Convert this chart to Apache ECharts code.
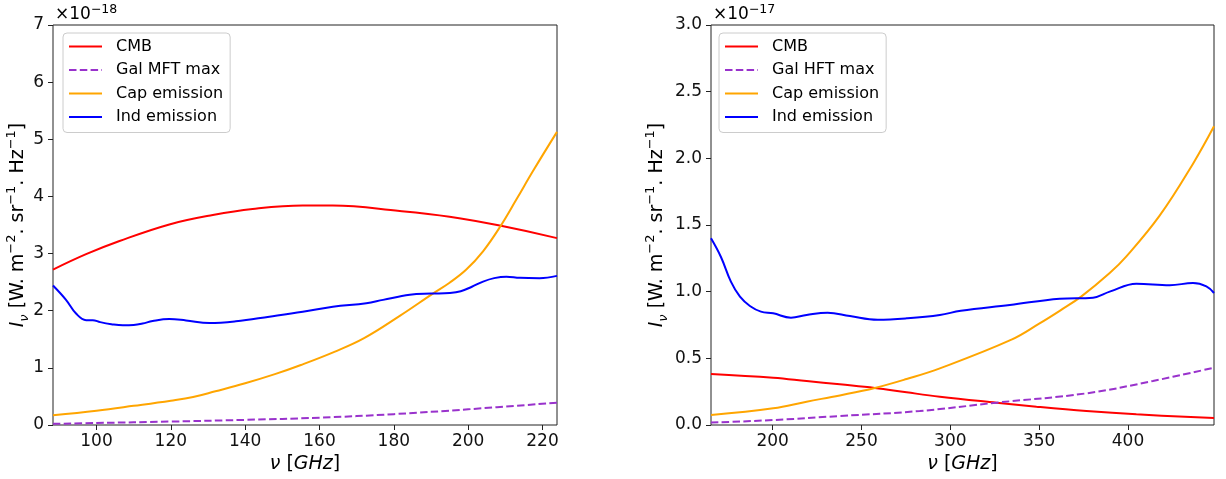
<!DOCTYPE html>
<html>
<head>
<meta charset="utf-8">
<script src="https://cdn.jsdelivr.net/npm/echarts@6/dist/echarts.min.js"></script>
<style>
  html, body { margin: 0; padding: 0; background: #fff; }
  #chart { width: 1226px; height: 479px; }
</style>
</head>
<body>
<div id="chart"></div>
<script>
// Spectral intensity I_nu versus frequency for the two telescopes.
// Left panel values are in units of 1e-18 W m^-2 sr^-1 Hz^-1, right panel in 1e-17.

// ---- MFT band (left) ----
const mftCmbFreq = [88.3, 97.2, 106.2, 119.6, 131.3, 142.0, 155.5, 163.6, 181.6, 195.0, 208.5, 223.9];
const mftCmbVal  = [2.72, 2.99, 3.22, 3.51, 3.675, 3.78, 3.84, 3.84, 3.745, 3.645, 3.49, 3.27];

const mftGalFreq = [88.3, 100, 120, 140, 160, 180, 200, 223.9];
const mftGalVal  = [0.02, 0.035, 0.06, 0.09, 0.128, 0.19, 0.275, 0.39];

const mftCapFreq = [88.3, 100.0, 110.0, 120.0, 126.0, 132.0, 140.0, 148.0, 155.0, 164.0, 172.0, 181.6, 190.5, 195.0, 199.5, 204.0, 208.5, 213.0, 217.4, 223.9];
const mftCapVal  = [0.17, 0.25, 0.335, 0.425, 0.49, 0.59, 0.73, 0.89, 1.05, 1.28, 1.52, 1.91, 2.30, 2.49, 2.72, 3.04, 3.46, 3.95, 4.44, 5.13];

const mftIndFreq = [88.3, 91.8, 94.5, 97.2, 99.0, 101.0, 104.0, 107.1, 110.0, 112.4, 115.1, 119.6, 124.1, 130.4, 137.5, 146.5, 155.5, 163.6, 172.6, 177.1, 184.3, 190.0, 195.0, 198.0, 201.0, 204.0, 207.0, 210.3, 213.9, 219.2, 223.9];
const mftIndVal  = [2.44, 2.19, 1.95, 1.835, 1.835, 1.80, 1.765, 1.745, 1.75, 1.775, 1.82, 1.855, 1.83, 1.785, 1.815, 1.895, 1.98, 2.07, 2.13, 2.19, 2.28, 2.30, 2.31, 2.34, 2.42, 2.51, 2.57, 2.595, 2.575, 2.57, 2.61];

// ---- HFT band (right) ----
const hftCmbFreq = [165.3, 200.3, 219.1, 237.8, 257.5, 275.4, 294.1, 326.0, 348.5, 376.6, 404.7, 448.4];
const hftCmbVal  = [0.383, 0.355, 0.33, 0.305, 0.278, 0.245, 0.2125, 0.1675, 0.1375, 0.105, 0.08, 0.052];

const hftGalFreq = [165.3, 200.3, 237.8, 282.8, 326.0, 376.6, 414.0, 448.4];
const hftGalVal  = [0.018, 0.037, 0.0675, 0.105, 0.1675, 0.2375, 0.33, 0.43];

const hftCapFreq = [165.3, 200.3, 219.1, 237.8, 257.5, 275.4, 294.1, 334.4, 350.0, 362.0, 373.8, 389.7, 399.1, 417.8, 436.6, 448.4];
const hftCapVal  = [0.075, 0.125, 0.175, 0.222, 0.278, 0.345, 0.425, 0.64, 0.76, 0.86, 0.965, 1.14, 1.265, 1.57, 1.96, 2.24];

const hftIndFreq = [165.3, 170.9, 176.5, 181.6, 187.2, 193.4, 200.3, 210.3, 219.1, 230.9, 243.5, 259.1, 275.4, 294.1, 305.9, 333.5, 361.6, 380.3, 389.7, 404.7, 423.5, 436.6, 444.1, 448.4];
const hftIndVal  = [1.40, 1.26, 1.075, 0.962, 0.8925, 0.85, 0.8375, 0.805, 0.825, 0.8425, 0.8175, 0.79, 0.80, 0.825, 0.857, 0.90, 0.947, 0.955, 1.0, 1.06, 1.048, 1.065, 1.04, 0.99];

// ---- axis extents and tick labels ----
const mftRange = [88.3, 223.9];
const hftRange = [165.3, 448.4];
const mftXTicks = [100, 120, 140, 160, 180, 200, 220];
const hftXTicks = [200, 250, 300, 350, 400];
const mftYTicks = [0, 1, 2, 3, 4, 5, 6, 7];
const hftYTicks = [0, 0.5, 1.0, 1.5, 2.0, 2.5, 3.0];
const mftExponent = '−18';
const hftExponent = '−17';

const mftNames = ['CMB', 'Gal MFT max', 'Cap emission', 'Ind emission'];
const hftNames = ['CMB', 'Gal HFT max', 'Cap emission', 'Ind emission'];

const FONT = 'DejaVu Sans';
const colors = { cmb: '#ff0000', gal: '#9932cc', cap: '#ffa500', ind: '#0000ff' };

const zip = (xs, ys) => xs.map((x, i) => [x, ys[i]]);

const yName = '{it|I}{sub|ν}{n| [W. m}{sup|−2}{n|. sr}{sup|−1}{n|. Hz}{sup|−1}{n|]}';
const nameRich = {
  n:   { fontFamily: FONT, fontSize: 19, lineHeight: 26, color: '#000' },
  it:  { fontFamily: FONT, fontSize: 19, lineHeight: 26, fontStyle: 'italic', color: '#000' },
  sub: { fontFamily: FONT, fontSize: 13, lineHeight: 12, fontStyle: 'italic', verticalAlign: 'bottom', color: '#000' },
  sup: { fontFamily: FONT, fontSize: 13, lineHeight: 13, verticalAlign: 'top', color: '#000' }
};
const xName = '{it|ν}{n| [}{it|GHz}{n|]}';

function xAxis(gridIndex, range, ticks) {
  return {
    type: 'value', gridIndex, min: range[0], max: range[1],
    axisLine: { show: false },
    axisTick: { show: true, inside: false, length: 5, lineStyle: { color: '#222', width: 1 }, customValues: ticks },
    axisLabel: { customValues: ticks, fontFamily: FONT, fontSize: 17, color: '#111', margin: 8 },
    splitLine: { show: false },
    name: xName, nameLocation: 'middle', nameGap: 26, nameMoveOverlap: false,
    nameTextStyle: { rich: nameRich }
  };
}

function yAxis(gridIndex, max, ticks, decimals, gap) {
  return {
    type: 'value', gridIndex, min: 0, max,
    axisLine: { show: false },
    axisTick: { show: true, inside: false, length: 5, lineStyle: { color: '#222', width: 1 }, customValues: ticks },
    axisLabel: {
      customValues: ticks, fontFamily: FONT, fontSize: 17, color: '#111', margin: 9,
      formatter: v => v.toFixed(decimals)
    },
    splitLine: { show: false },
    name: yName, nameLocation: 'middle', nameRotate: 90, nameGap: gap, nameMoveOverlap: false,
    nameTextStyle: { rich: nameRich }
  };
}

function lineSeries(name, idx, data, color, dashed) {
  return {
    type: 'line', name, xAxisIndex: idx, yAxisIndex: idx, data,
    symbol: 'none', showSymbol: false, smooth: 0.4,
    lineStyle: { color, width: 2, type: dashed ? [7.5, 3.3] : 'solid' },
    itemStyle: { color },
    emphasis: { disabled: true }
  };
}

function legend(left, names) {
  return {
    orient: 'vertical', left, top: 33,
    itemWidth: 33, itemHeight: 14, itemGap: 7.5,
    padding: [5.5, 7, 7.5, 5],
    backgroundColor: 'rgba(255,255,255,0.8)', borderColor: '#cccccc', borderWidth: 1, borderRadius: 4,
    itemStyle: { opacity: 0 },
    textStyle: { fontFamily: FONT, fontSize: 16, color: '#000', lineHeight: 16, padding: [0, 0, 0, 9] },
    selectedMode: false,
    data: names
  };
}

function exponentLabel(left, exp) {
  return {
    type: 'text', left, top: 3,
    style: {
      text: '{b|×10}{s|' + exp + '}',
      rich: {
        b: { fontFamily: FONT, fontSize: 17, lineHeight: 23, fill: '#000', color: '#000' },
        s: { fontFamily: FONT, fontSize: 12.5, lineHeight: 13, verticalAlign: 'top', fill: '#000', color: '#000' }
      }
    }
  };
}

const chart = echarts.init(document.getElementById('chart'), null, { renderer: 'canvas' });
chart.setOption({
  animation: false,
  backgroundColor: '#fff',
  grid: [
    { left: 53, top: 25, width: 504, height: 400, show: true, borderColor: '#222', borderWidth: 1, backgroundColor: 'transparent', containLabel: false, outerBoundsMode: 'none' },
    { left: 711, top: 25, width: 503, height: 400, show: true, borderColor: '#222', borderWidth: 1, backgroundColor: 'transparent', containLabel: false, outerBoundsMode: 'none' }
  ],
  xAxis: [xAxis(0, mftRange, mftXTicks), xAxis(1, hftRange, hftXTicks)],
  yAxis: [yAxis(0, 7, mftYTicks, 0, 22), yAxis(1, 3, hftYTicks, 1, 41)],
  legend: [legend(63, mftNames), legend(719, hftNames)],
  graphic: [exponentLabel(55, mftExponent), exponentLabel(713, hftExponent)],
  series: [
    lineSeries(mftNames[0], 0, zip(mftCmbFreq, mftCmbVal), colors.cmb, false),
    lineSeries(mftNames[1], 0, zip(mftGalFreq, mftGalVal), colors.gal, true),
    lineSeries(mftNames[2], 0, zip(mftCapFreq, mftCapVal), colors.cap, false),
    lineSeries(mftNames[3], 0, zip(mftIndFreq, mftIndVal), colors.ind, false),
    lineSeries(hftNames[0], 1, zip(hftCmbFreq, hftCmbVal), colors.cmb, false),
    lineSeries(hftNames[1], 1, zip(hftGalFreq, hftGalVal), colors.gal, true),
    lineSeries(hftNames[2], 1, zip(hftCapFreq, hftCapVal), colors.cap, false),
    lineSeries(hftNames[3], 1, zip(hftIndFreq, hftIndVal), colors.ind, false)
  ]
});
</script>
</body>
</html>
